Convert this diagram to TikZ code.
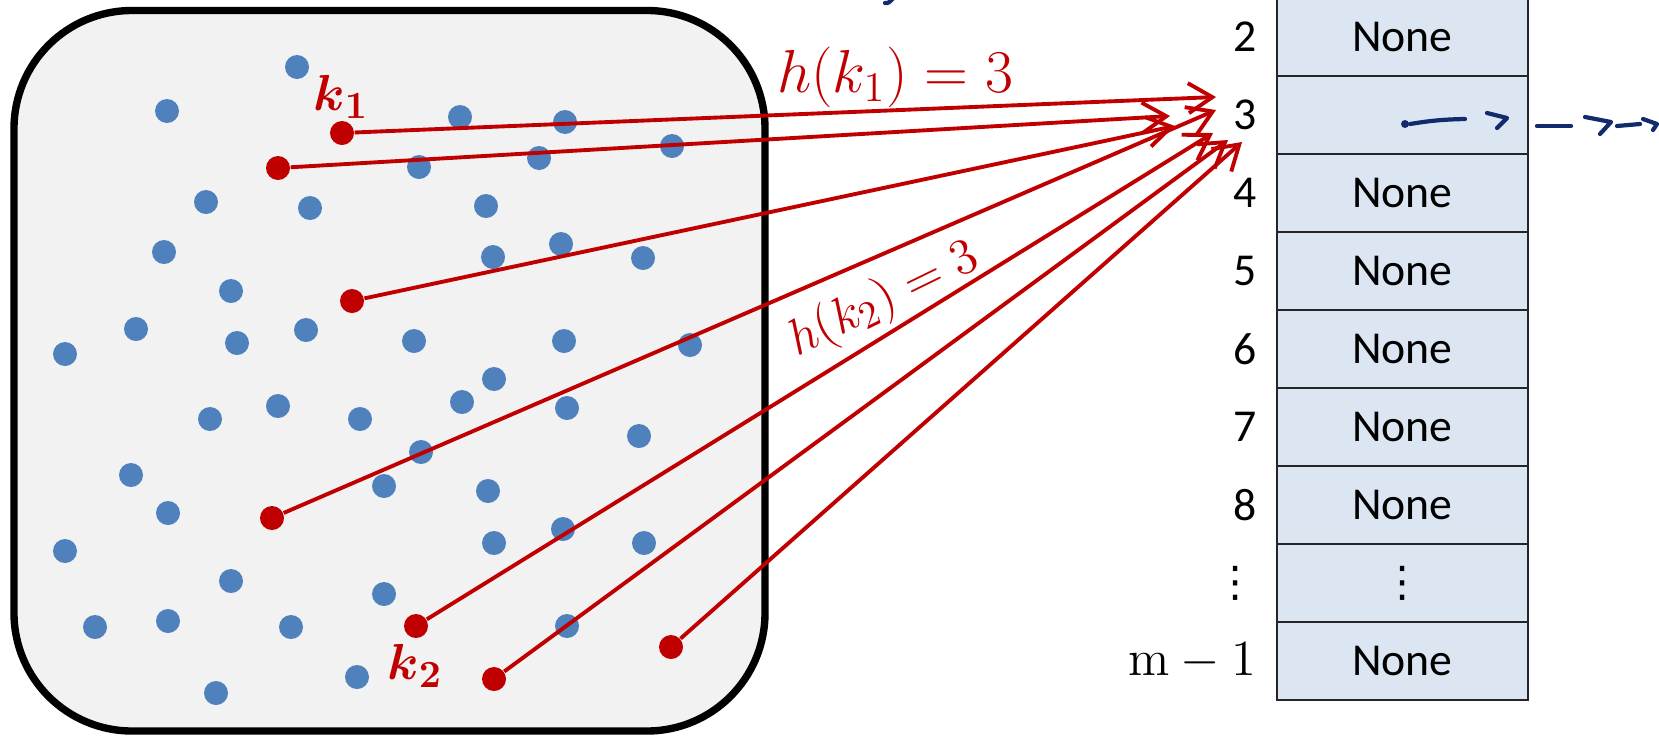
\documentclass[tikz,border=0pt]{standalone}
\usepackage{amsmath}
\usepackage[no-math]{fontspec}
\setmainfont{Carlito}
\newfontfamily\symfont{DejaVu Sans}
\usetikzlibrary{arrows.meta,positioning}
\definecolor{keyred}{HTML}{C00000}
\definecolor{dotblue}{HTML}{4F81BD}
\definecolor{cellblue}{HTML}{DCE6F2}
\definecolor{boxgray}{HTML}{F2F2F2}
\definecolor{inkblue}{HTML}{112B6C}
\newcommand\cellfont{\fontsize{13}{15}\selectfont}
\newcommand\hashfont{\fontsize{16.5}{19}\selectfont}
\newcommand\keyfont{\fontsize{15}{18}\selectfont}
\newcommand\rowdots{{\symfont\fontsize{12}{14}\selectfont ⋮}}

\begin{document}
\begin{tikzpicture}[x=0.1mm,y=-0.1mm,
  bluedot/.style={circle,fill=dotblue,inner sep=0pt,minimum size=2.4mm},
  keydot/.style={circle,fill=keyred,inner sep=0pt,minimum size=2.4mm},
  hasharrow/.style={-{Straight Barb[length=2.4mm,width=3mm]},keyred,line width=1.1pt},
  cell/.style={draw=black!85,line width=0.8pt,fill=cellblue,minimum width=25.1mm,
    minimum height=7.8mm,inner sep=0pt,outer sep=0pt,font=\cellfont},
  idx/.style={inner sep=0pt,font=\cellfont},
  keylabel/.style={text=keyred,inner sep=0pt,font=\hashfont},
  keyname/.style={text=keyred,inner sep=0pt,font=\keyfont},
  ink/.style={inkblue,line width=1.2pt,line cap=round,line join=round}]
\useasboundingbox (0,0) rectangle (1659,735);

% the set of keys
\draw[line width=2.1pt,fill=boxgray,rounded corners=11.8mm] (14,10.5) rectangle (765,731);
\foreach \px/\py [count=\i] in {297/67,167/111,460/117,565/122,419/167,539/158,672/146,
  206/202,310/208,486/206,164/252,493/257,561/244,643/258,231/291,136/329,237/343,
  306/330,65/354,414/341,564/341,690/345,494/379,210/419,278/406,360/419,462/402,
  567/408,639/436,131/475,168/513,421/452,384/486,488/491,65/551,231/581,494/543,
  563/529,644/543,384/594,95/627,168/621,291/627,567/626,357/677,216/693}
  \node[bluedot] (b\i) at (\px,\py) {};

% the table
\foreach \nm/\txt [count=\i from 0] in {2/None,3/{},4/None,5/None,6/None,7/None,
  8/None,dots/\rowdots,last/None}
  \node[cell] (row\nm) at (1402.5,37+78*\i) {\txt};
\foreach \nm/\lab in {2/2,3/3,4/4,5/5,6/6,7/7,8/8,dots/\rowdots}
  \node[idx,anchor=east,left=2mm of row\nm] {\lab};
\node[idx,anchor=east,left=2mm of rowlast,font=\fontsize{14.5}{17}\selectfont] {$\mathrm{m}-1$};

% keys hashed to slot 3
\node[keydot] (k1) at (342,133) {};
\node[keydot] (k2) at (278,168) {};
\node[keydot] (k3) at (352,301) {};
\node[keydot] (k4) at (272,518) {};
\node[keydot] (k5) at (416,626) {};
\node[keydot] (k6) at (494,679) {};
\node[keydot] (k7) at (671,647) {};
\coordinate (t1) at (1216,97);
\coordinate (t2) at (1170,116);
\coordinate (t3) at (1175,126);
\coordinate (t4) at (1216,110);
\coordinate (t5) at (1213,133);
\coordinate (t6) at (1228,140);
\coordinate (t7) at (1242,142);
\foreach \i in {1,...,7}
  \draw[hasharrow] (k\i) -- (t\i);

\node[keyname] (lk1) at (341,97) {$\boldsymbol{k}_{\boldsymbol{1}}$};
\node[keyname] (lk2) at (415,666) {$\boldsymbol{k}_{\boldsymbol{2}}$};
\node[keylabel] (h1) at (895,77) {$h(k_1)=3$};
\node[keylabel,rotate=26,font=\fontsize{15.5}{18}\selectfont] (h2) at (884,300) {$h(k_2)=3$};

% hand-drawn chain pointer
\fill[inkblue] (1405,124) circle (4);
\draw[ink] (1410,124) to[bend left=4] (1465,119);
\draw[ink] (1487,113) -- (1507,118) -- (1497,128);
\draw[ink] (1537,126) -- (1571,126);
\draw[ink] (1585,117) -- (1611,122) -- (1600,134);
\draw[ink] (1617,126) -- (1640,124);
\draw[ink] (1643,119) -- (1657,124) -- (1653,130);
\draw[ink] (885,3) .. controls (888,4) and (891,1) .. (894,-3);
\end{tikzpicture}
\end{document}
